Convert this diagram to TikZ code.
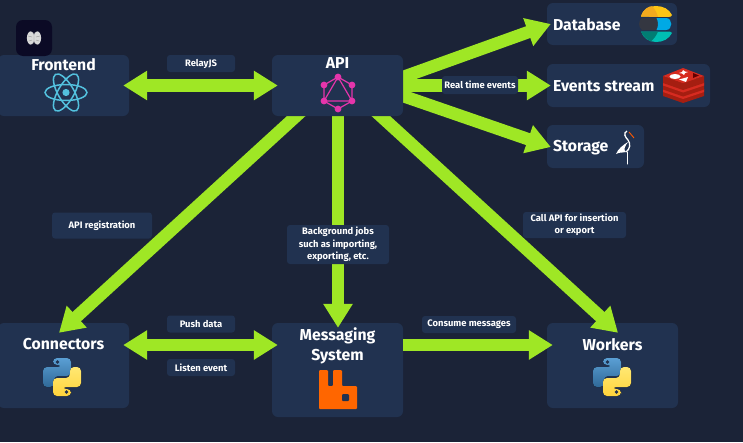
\documentclass[tikz,border=0pt]{standalone}
\usepackage{fontspec}
\setmainfont{Fira Sans}
\usetikzlibrary{arrows.meta}
\pgfdeclarelayer{far}\pgfdeclarelayer{mid}\pgfdeclarelayer{front}
\pgfsetlayers{far,mid,main,front}
\definecolor{bgc}{RGB}{27,35,55}
\definecolor{boxc}{RGB}{33,50,80}
\definecolor{flowc}{RGB}{159,231,37}
\definecolor{reactc}{RGB}{83,193,222}
\definecolor{gqlc}{RGB}{229,53,171}
\definecolor{pyblueA}{RGB}{90,159,212}
\definecolor{pyblueB}{RGB}{48,105,152}
\definecolor{pyyelA}{RGB}{255,232,115}
\definecolor{pyyelB}{RGB}{255,212,59}
\definecolor{elyel}{RGB}{254,197,20}
\definecolor{elorg}{RGB}{243,170,30}
\definecolor{eldark}{RGB}{52,55,65}
\definecolor{elblue}{RGB}{0,169,229}
\definecolor{elteal}{RGB}{0,191,179}
\definecolor{eldteal}{RGB}{1,125,115}
\definecolor{rdtop}{RGB}{214,43,32}
\definecolor{rdside}{RGB}{165,30,17}
\definecolor{rabbit}{RGB}{255,102,0}
\definecolor{brainbg}{RGB}{11,10,37}
\tikzset{
  every node/.style={font=\bfseries},
  box/.style={fill=boxc,rounded corners=6pt,inner sep=0pt},
  title/.style={text=white,font=\fontsize{15.8}{19.5}\selectfont\bfseries,inner sep=0pt,align=center},
  tag/.style={fill=boxc,rounded corners=3pt,inner sep=0pt,text=white,align=center,
    font=\fontsize{9.4}{12.4}\selectfont\bfseries},
  flow/.style={draw=flowc,line width=12.5pt,-{Triangle[length=24pt,width=28pt]}},
  flowboth/.style={draw=flowc,line width=12.5pt,{Triangle[length=24pt,width=28pt]}-{Triangle[length=24pt,width=28pt]}},
  pythonpic/.pic={
    \fill[rounded corners=4pt,top color=pyblueA,bottom color=pyblueB]
      (-9,-19)--(9,-19)--(9,-1)--(-8,-1)--(-8,10)--(-19,10)--(-19,-10)--(0,-10)--(0,-12)--(-9,-12)--cycle;
    \fill[rounded corners=4pt,top color=pyyelA,bottom color=pyyelB]
      (9,19)--(-9,19)--(-9,1)--(8,1)--(8,-10)--(19,-10)--(19,10)--(0,10)--(0,12)--(9,12)--cycle;
    \fill[boxc] (-4.5,-15) circle (1.8);
    \fill[boxc] (4.5,15) circle (1.8);
  }
}
\begin{document}
\begin{tikzpicture}[x=1pt,y=-1pt]
\useasboundingbox (0,0) rectangle (743,442);
\begin{pgfonlayer}{far}
\fill[bgc] (0,0) rectangle (743,442);
\node[box,minimum width=131pt,minimum height=61pt,label={[title,anchor=north,yshift=-3.5pt]north:Frontend}] (fe) at (63.5,85.5) {};
\node[box,minimum width=130pt,minimum height=42pt,label={[title,anchor=west,xshift=6pt,yshift=-1pt]west:Database}] (db) at (612,24) {};
\node[box,minimum width=163pt,minimum height=43pt,label={[title,anchor=west,xshift=6pt,yshift=-0.5pt]west:Events stream}] (ev) at (628.5,85.5) {};
\node[box,minimum width=97pt,minimum height=43pt,label={[title,anchor=west,xshift=6pt,yshift=-1pt]west:Storage}] (st) at (595.5,146.5) {};
\node[box,minimum width=131pt,minimum height=85pt,label={[title,anchor=north,yshift=-15.5pt]north:Connectors}] (co) at (63.5,365.5) {};
\node[box,minimum width=131pt,minimum height=94pt,label={[title,anchor=north,yshift=-5pt]north:Messaging\\System}] (ms) at (337.5,370) {};
\node[box,minimum width=131pt,minimum height=85pt,label={[title,anchor=north,yshift=-15.5pt]north:Workers}] (wk) at (612.5,365.5) {};
\end{pgfonlayer}
\node[box,minimum width=131pt,minimum height=61pt,label={[title,anchor=north,yshift=-3pt]north:API}] (api) at (337.5,85.5) {};
\begin{pgfonlayer}{front}
\node[tag,minimum width=68pt,minimum height=17pt] (relay) at (201,63.5) {RelayJS};
\node[tag,minimum width=76pt,minimum height=18pt] (rt) at (480,85) {Real time events};
\node[tag,minimum width=100pt,minimum height=26pt] (reg) at (102,225.5) {API registration};
\node[tag,minimum width=102pt,minimum height=39pt] (bg) at (338,244.5) {Background jobs\\such as importing,\\exporting, etc.};
\node[tag,minimum width=103pt,minimum height=26pt] (call) at (574.5,225) {Call API for insertion\\or export};
\node[tag,minimum width=68pt,minimum height=17pt] (push) at (201,324) {Push data};
\node[tag,minimum width=68pt,minimum height=17pt] (listen) at (201,367.5) {Listen event};
\node[tag,minimum width=94pt,minimum height=17pt] (cons) at (469,324.5) {Consume messages};
\node[fill=brainbg,rounded corners=7pt,minimum size=36pt,inner sep=0pt] (brain) at (34,38) {};
\end{pgfonlayer}
\begin{pgfonlayer}{mid}
\draw[flow] ([shift={(-10,-4.9)}]api.east) -- ([shift={(4,0)}]db.west);
\draw[flow] ([shift={(-2,0)}]api.east) -- ([shift={(4,0)}]ev.west);
\draw[flow] ([shift={(-10,7.1)}]api.east) -- ([shift={(4,0.5)}]st.west);
\draw[flow] ([shift={(-30.5,-10)}]api.south) -- ([shift={(-4.5,10)}]co.north);
\draw[flow] ([shift={(0.5,-2)}]api.south) -- ([shift={(0.5,5)}]ms.north);
\draw[flow] ([shift={(32.5,-10)}]api.south) -- ([shift={(5.5,10)}]wk.north);
\end{pgfonlayer}
\begin{pgfonlayer}{front}
\draw[flowboth] ([shift={(-6,0)}]fe.east) -- ([shift={(6,0)}]api.west);
\draw[flowboth] ([shift={(-6,-20.5)}]co.east) -- ([shift={(6,-25)}]ms.west);
\draw[flow] ([shift={(0,-25)}]ms.east) -- ([shift={(6,-20.5)}]wk.west);
% brain
\fill[white!85!black] (30.7,38) ellipse (3.8 and 6.6);
\fill[white!85!black] (37.3,38) ellipse (3.8 and 6.6);
\draw[black!40,line width=0.4pt] (34,32)--(34,44) (28,36)--(32,37) (40,36)--(36,37) (29,41)--(32,40) (39,41)--(36,40);
% react
\begin{scope}[shift={(66,92.5)}]
\draw[reactc,line width=1.5pt] (0,0) ellipse (21 and 8);
\draw[reactc,line width=1.5pt,rotate=60] (0,0) ellipse (21 and 8);
\draw[reactc,line width=1.5pt,rotate=-60] (0,0) ellipse (21 and 8);
\fill[reactc] (0,0) circle (3.6);
\end{scope}
% graphql
\begin{scope}[gqlc]
\draw[line width=1.2pt] (338,77)--(352,85)--(352,101)--(338,109)--(324,101)--(324,85)--cycle;
\draw[line width=1.2pt] (338,77)--(352,101)--(324,101)--cycle;
\fill (338,77) circle (3.4) (352,85) circle (3.4) (352,101) circle (3.4) (338,109) circle (3.4) (324,101) circle (3.4) (324,85) circle (3.4);
\end{scope}
% elastic
\fill[elyel] (641,16.5) .. controls (643,9) and (649,6) .. (656,6) .. controls (663,6) and (669,9) .. (672,15) .. controls (672,16.5) and (670,17) .. (668,17) -- cycle;
\fill[elorg] (641,16.5) .. controls (643,9) and (649,6) .. (652,6.3) .. controls (655,9) and (657,13) .. (658,17) -- cycle;
\fill[eldark] (642,18) -- (658,18) -- (658,30) -- (642,30) .. controls (638,27) and (638,21) .. (642,18) -- cycle;
\fill[elblue] (656.5,18) -- (666,18) .. controls (673,18) and (673,30) .. (666,30) -- (656.5,30) .. controls (658.5,26) and (658.5,22) .. (656.5,18) -- cycle;
\fill[elteal] (641,31.5) -- (668,31.5) .. controls (670,31.5) and (672,32) .. (672,33) .. controls (669,39) and (663,42) .. (656,42) .. controls (649,42) and (643,38) .. (641,31.5) -- cycle;
\fill[eldteal] (641,31.5) -- (658,31.5) .. controls (656,36) and (654,39) .. (651,41.5) .. controls (646,39) and (643,36) .. (641,31.5) -- cycle;
% redis
\foreach \dy in {13,6.5}{
  \fill[rdside] (663,76+\dy) -- (683,83+\dy) -- (704,76+\dy) -- (704,83+\dy) -- (683,90+\dy) -- (663,83+\dy) -- cycle;
  \fill[rdtop] (663,79+\dy) -- (683,86+\dy) -- (704,79+\dy) -- (704,76+\dy) -- (683,68+\dy) -- (663,76+\dy) -- cycle;
}
\fill[rdside] (663,76) -- (683,83) -- (704,76) -- (704,83) -- (683,90) -- (663,83) -- cycle;
\fill[rdtop] (663,76) -- (683,68) -- (704,76) -- (683,83) -- cycle;
\fill[white] (675,76.5) ellipse (5.5 and 2.5);
\fill[white] (683,70) -- (685,71.5) -- (688,72) -- (685,73) -- (684,75) -- (682,73.5) -- (679,73) -- (682,72) -- cycle;
\fill[white] (679,79.5) -- (688,77) -- (686,82) -- cycle;
\fill[red!40!black] (693,73) -- (699,75.5) -- (693,78) -- cycle;
% stork
\draw[white,line width=1pt,line cap=round] (627,152) -- (627,164);
\draw[white,line width=1.3pt] (627,131) .. controls (623,133) and (625,137) .. (628,140) .. controls (631,144) and (630,149) .. (626,152);
\fill[white] (628,142) .. controls (623,145) and (618,149) .. (616,154) .. controls (620,152) and (621,153) .. (626,152) .. controls (623,150) and (625,146) .. (628,142) -- cycle;
\draw[orange!70!red,line width=0.9pt] (629,132) -- (634,138);
% python
\pic at (62,377) {pythonpic};
\pic at (612,377) {pythonpic};
% rabbit
\fill[rabbit,rounded corners=1pt] (319,370) -- (328,370) -- (328,386) -- (333,386) -- (333,370) -- (342,370) -- (342,386) -- (357,386) -- (357,409) -- (319,409) -- cycle;
\fill[boxc,rounded corners=1pt] (342,394) rectangle (349,401);
\end{pgfonlayer}
\end{tikzpicture}
\end{document}
